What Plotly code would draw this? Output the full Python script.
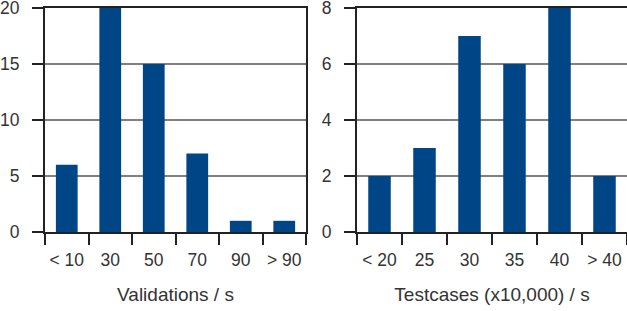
import plotly.graph_objects as go
from plotly.subplots import make_subplots

val_categories = ["< 10", "30", "50", "70", "90", "> 90"]
val_counts = [6, 20, 15, 7, 1, 1]
val_yticks = [0, 5, 10, 15, 20]

tc_categories = ["< 20", "25", "30", "35", "40", "> 40"]
tc_counts = [2, 3, 7, 6, 8, 2]
tc_yticks = [0, 2, 4, 6, 8]

BAR = "#004586"
TXT = "#333333"
AX = "#222222"
GRID = "#808080"
W, H = 627, 311

fig = make_subplots(rows=1, cols=2)
fig.add_trace(go.Bar(x=val_categories, y=val_counts, marker=dict(color=BAR, line=dict(width=0))), 1, 1)
fig.add_trace(go.Bar(x=tc_categories, y=tc_counts, marker=dict(color=BAR, line=dict(width=0))), 1, 2)

font = dict(family="Liberation Sans, Arial, sans-serif", size=17.5, color=TXT)
fig.update_layout(
    width=W, height=H, margin=dict(l=0, r=0, t=8, b=79),
    paper_bgcolor="white", plot_bgcolor="white",
    showlegend=False, bargap=0.5, font=font,
)

xcommon = dict(type="category", tickson="boundaries", ticks="outside", ticklen=11,
               tickwidth=2, tickcolor=AX, showline=True, linecolor=AX, linewidth=2,
               mirror=True, showgrid=False, tickfont=dict(size=17.5, color=TXT),
               tickangle=0, automargin=False,
               ticklabelstandoff=11, title_standoff=19, title_font=dict(size=19, color=TXT))
ycommon = dict(ticks="outside", ticklen=11, tickwidth=2, tickcolor=AX, showline=True,
               linecolor=AX, linewidth=2, mirror=True, showgrid=True, gridcolor=GRID,
               gridwidth=2, zeroline=False, tickfont=dict(size=17.5, color=TXT),
               automargin=False, ticklabeloverflow="allow", ticklabelstandoff=9)

fig.update_xaxes(domain=[45 / W, 306 / W], title_text="Validations / s", row=1, col=1, **xcommon)
fig.update_xaxes(domain=[357 / W, 1.0], title_text="Testcases (x10,000) / s", row=1, col=2, **xcommon)
fig.update_yaxes(range=[0, 20], tickvals=val_yticks, row=1, col=1, **ycommon)
fig.update_yaxes(range=[0, 8], tickvals=tc_yticks, row=1, col=2, **ycommon)

fig.write_html("out.html", config={"displayModeBar": False},
               post_script="document.body.style.margin='0';document.body.style.overflow='hidden';")
